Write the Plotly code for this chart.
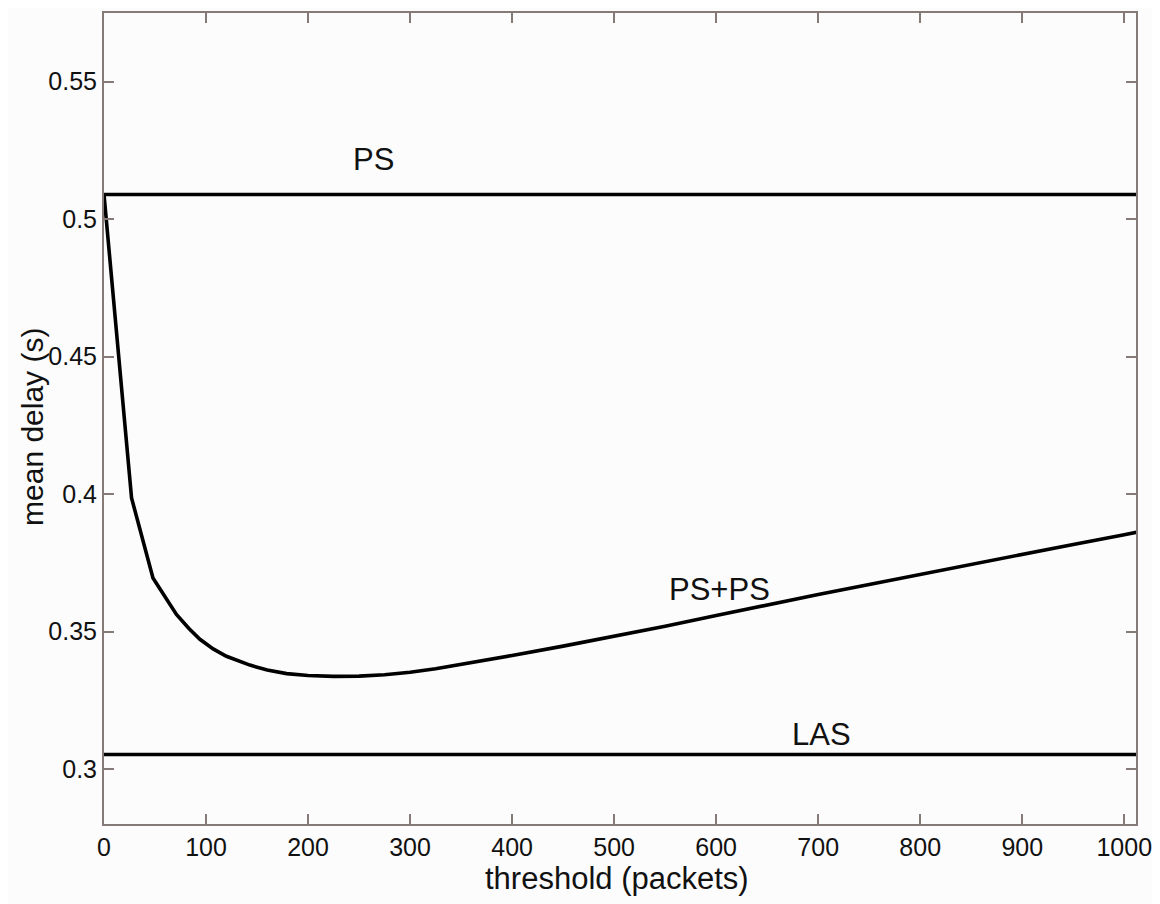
import plotly.graph_objects as go

# PS+PS curve (threshold in packets, mean delay in s)
curve_x = [0, 27, 48, 60, 71, 83, 94, 107, 120, 143, 160, 179, 200, 225, 250, 275, 300,
           325, 350, 400, 450, 500, 550, 600, 650, 700, 750, 800, 850, 900, 950, 1000, 1012]
curve_y = [0.509, 0.3986, 0.3695, 0.3625, 0.3562, 0.3512, 0.3472, 0.3437, 0.3410, 0.3378,
           0.3360, 0.3347, 0.3340, 0.3337, 0.3338, 0.3343, 0.3352,
           0.3365, 0.3380, 0.3413, 0.3447, 0.3482, 0.3519, 0.3558, 0.3597, 0.3635, 0.3671,
           0.3708, 0.3745, 0.3782, 0.3817, 0.3852, 0.3861]

# PS and LAS reference levels
ps_x = [0, 1012]
ps_y = [0.509, 0.509]
las_x = [0, 1012]
las_y = [0.3053, 0.3053]

x_ticks = [0, 100, 200, 300, 400, 500, 600, 700, 800, 900, 1000]
y_ticks = [0.3, 0.35, 0.4, 0.45, 0.5, 0.55]

# labels: (text, x, y)
labels = [("PS", 264.6, 0.5217), ("PS+PS", 602.8, 0.3654), ("LAS", 703.7, 0.3127)]

FONT = "Liberation Sans, Arial, Helvetica, sans-serif"
AXC = "#857a76"

fig = go.Figure()
for xs, ys in [(ps_x, ps_y), (las_x, las_y), (curve_x, curve_y)]:
    fig.add_trace(go.Scatter(x=xs, y=ys, mode="lines",
                             line=dict(color="#000000", width=3.6),
                             showlegend=False, hoverinfo="skip", cliponaxis=True))

for t, lx, ly in labels:
    fig.add_annotation(x=lx, y=ly, xref="x", yref="y", text=t, showarrow=False,
                       font=dict(family=FONT, size=31, color="#111111"),
                       xanchor="center", yanchor="middle")

# axis titles
fig.add_annotation(x=0.497, y=-0.0677, xref="paper", yref="paper",
                   text="threshold (packets)", showarrow=False,
                   font=dict(family=FONT, size=31, color="#111111"),
                   xanchor="center", yanchor="middle")
fig.add_annotation(x=-0.0698, y=0.4895, xref="paper", yref="paper",
                   text="mean delay (s)", showarrow=False, textangle=-90,
                   font=dict(family=FONT, size=30, color="#111111"),
                   xanchor="center", yanchor="middle")

axis_common = dict(showgrid=False, zeroline=False, showline=True, linecolor=AXC,
                   linewidth=2, mirror="ticks", ticks="inside", ticklen=10,
                   tickwidth=2, tickcolor=AXC,
                   tickfont=dict(family=FONT, size=25, color="#111111"))

fig.update_xaxes(range=[0, 1011.5], tickvals=x_ticks,
                 ticktext=[str(v) for v in x_ticks], **axis_common)
fig.update_yaxes(range=[0.28, 0.575], tickvals=y_ticks,
                 ticktext=[f"{v:g}" for v in y_ticks], **axis_common)

fig.update_layout(width=1152, height=896,
                  margin=dict(l=96, r=24, t=3, b=80),
                  paper_bgcolor="#fcfcfc", plot_bgcolor="#fcfcfc",
                  showlegend=False)

fig.write_html("out.html")
